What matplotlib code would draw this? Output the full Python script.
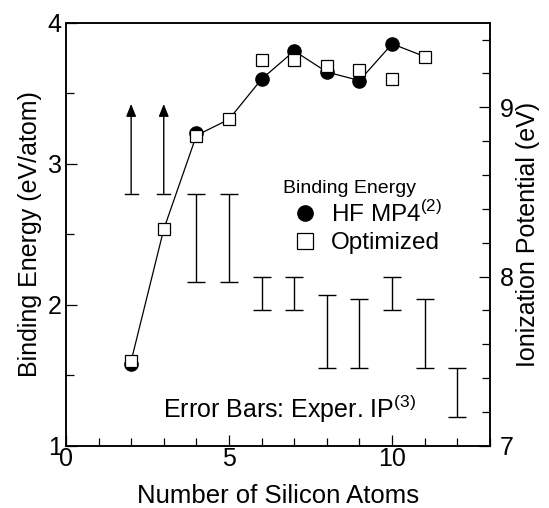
import matplotlib
matplotlib.use('Agg')
import matplotlib.pyplot as plt
from matplotlib.ticker import MultipleLocator
from matplotlib.lines import Line2D

plt.rcParams['font.family'] = ['Liberation Sans', 'DejaVu Sans']
plt.rcParams['mathtext.fontset'] = 'custom'
plt.rcParams['mathtext.rm'] = 'Liberation Sans'

# binding energy (eV/atom), left axis
n_hf = [2, 4, 6, 7, 8, 9, 10]
be_hf = [1.58, 3.215, 3.60, 3.80, 3.65, 3.59, 3.85]
n_opt = [2, 3, 4, 5, 6, 7, 8, 9, 10, 11]
be_opt = [1.60, 2.535, 3.195, 3.315, 3.735, 3.735, 3.695, 3.665, 3.60, 3.76]
n_line = [2, 3, 4, 5, 6, 7, 8, 9, 10, 11]
be_line = [1.60, 2.535, 3.20, 3.315, 3.60, 3.80, 3.65, 3.59, 3.85, 3.76]

# experimental ionization potential ranges (eV), right axis
n_ip = [4, 5, 6, 7, 8, 9, 10, 11, 12]
ip_low = [7.97, 7.97, 7.80, 7.80, 7.46, 7.46, 7.80, 7.46, 7.17]
ip_high = [8.49, 8.49, 8.00, 8.00, 7.89, 7.87, 8.00, 7.87, 7.46]
# lower limits only (arrows)
n_lim = [2, 3]
ip_lim = [8.49, 8.49]

fig = plt.figure(figsize=(5.49, 5.08), dpi=100)
ax = fig.add_axes([0.120, 0.1226, 0.7725, 0.8327])
ax2 = ax.twinx()

ax.plot(n_line, be_line, '-', color='k', lw=0.9, zorder=2)
ax.plot(n_hf, be_hf, 'o', color='k', ms=9.5, zorder=3)
ax.plot(n_opt, be_opt, 's', mfc='white', mec='k', mew=0.9, ms=9, zorder=4)

mid = [(lo + hi) / 2 for lo, hi in zip(ip_low, ip_high)]
err = [[m - lo for m, lo in zip(mid, ip_low)], [hi - m for m, hi in zip(mid, ip_high)]]
ax2.errorbar(n_ip, mid, yerr=err, fmt='none', ecolor='k', elinewidth=1.0,
             capsize=6.5, capthick=1.0)
for x, y in zip(n_lim, ip_lim):
    ax2.plot([x - 0.2, x + 0.2], [y, y], color='k', lw=1.0)
    ax2.annotate('', xy=(x, 9.02), xytext=(x, y),
                 arrowprops=dict(arrowstyle='-|>,head_length=0.75,head_width=0.3',
                                 color='k', lw=1.0, shrinkA=0, shrinkB=0))

ax.set_xlim(0, 13)
ax.set_ylim(1, 4)
ax2.set_ylim(7, 9.5)
ax.xaxis.set_major_locator(MultipleLocator(5))
ax.xaxis.set_minor_locator(MultipleLocator(1))
ax.yaxis.set_major_locator(MultipleLocator(1))
ax.yaxis.set_minor_locator(MultipleLocator(0.5))
ax2.yaxis.set_major_locator(MultipleLocator(1))
ax2.yaxis.set_minor_locator(MultipleLocator(0.2))

for a in (ax, ax2):
    a.tick_params(which='both', direction='in', labelsize=18, width=0.9)
    a.tick_params(which='major', length=8)
    a.tick_params(which='minor', length=6)
    for sp in a.spines.values():
        sp.set_linewidth(1.1)
ax.tick_params(axis='x', which='both', top=False, pad=1)
ax.tick_params(axis='y', which='both', pad=3)
ax2.tick_params(axis='y', which='both', pad=7)

ax.set_xlabel('Number of Silicon Atoms', fontsize=18.5, labelpad=9)
ax.set_ylabel('Binding Energy (eV/atom)', fontsize=18, labelpad=4)
ax2.set_ylabel('Ionization Potential (eV)', fontsize=18, labelpad=2)

handles = [Line2D([], [], ls='none', marker='o', color='k', ms=11),
           Line2D([], [], ls='none', marker='s', mfc='white', mec='k', mew=0.9, ms=11)]
leg = ax.legend(handles, [r'HF MP4$^{\mathregular{(2)}}$', 'Optimized'],
                loc='upper left', bbox_to_anchor=(0.527, 0.59),
                frameon=False, fontsize=17.5, handlelength=0.9,
                handletextpad=0.6, labelspacing=0.22, borderaxespad=0,
                borderpad=0.2)
ax.text(0.512, 0.609, 'Binding Energy', transform=ax.transAxes,
        fontsize=14, va='center', ha='left')

ax.text(0.228, 0.088, r'Error Bars: Exper. IP$^{\mathregular{(3)}}$', transform=ax.transAxes,
        fontsize=18, va='center', ha='left')

fig.savefig('out.png', dpi=100)
